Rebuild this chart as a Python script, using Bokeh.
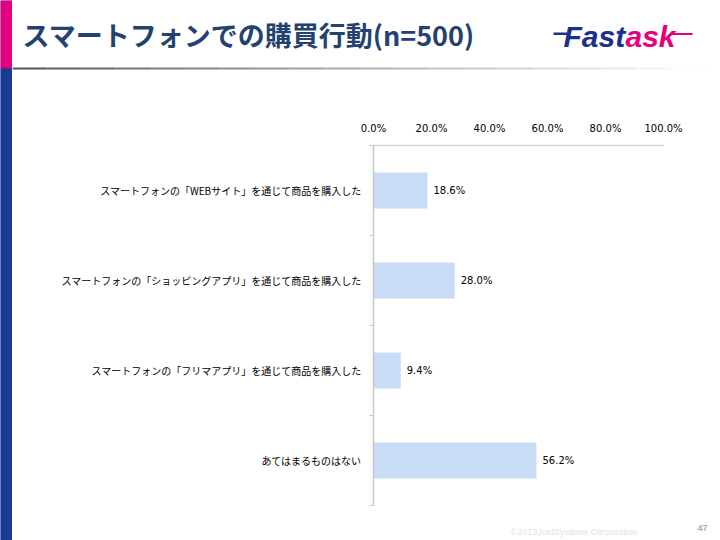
from bokeh.plotting import figure
from bokeh.models import (Range1d, FixedTicker, NumeralTickFormatter,
                          ColumnDataSource)
from bokeh.layouts import column, row
from bokeh.core.properties import value
from bokeh.embed import file_html
from bokeh.resources import INLINE

# ---- data ----
categories = [
    "スマートフォンの「WEBサイト」を通じて商品を購入した",
    "スマートフォンの「ショッピングアプリ」を通じて商品を購入した",
    "スマートフォンの「フリマアプリ」を通じて商品を購入した",
    "あてはまるものはない",
]
values_pct = [18.6, 28.0, 9.4, 56.2]
x_ticks = [0.0, 0.2, 0.4, 0.6, 0.8, 1.0]
title_text = "スマートフォンでの購買行動(n=500)"
footer_text = "©2013JustSystems Corporation"
page_no = "47"

PINK = "#E5007F"
NAVY = "#1A3A94"
W, H = 720, 540
HEAD_H, BODY_H, FOOT_H = 70, 445, 25
STRIP_W = 12


def blank(width, height, x0, x1, y0, y1, bg="white"):
    f = figure(width=width, height=height, output_backend="svg",
               toolbar_location=None, x_range=Range1d(x0, x1),
               y_range=Range1d(y1, y0), x_axis_location=None,
               y_axis_location=None, min_border=0, frame_align=False)
    f.outline_line_color = None
    f.grid.visible = False
    f.background_fill_color = bg
    f.border_fill_color = bg
    return f


# ---- left strip (full height) ----
st = blank(STRIP_W, H, 0, STRIP_W, 0, H, bg=NAVY)
st.quad(left=[0], right=[STRIP_W], top=[0], bottom=[68], fill_color=PINK, line_color=None)
st.quad(left=[0], right=[STRIP_W], top=[68], bottom=[H], fill_color=NAVY, line_color=None)

# ---- header ----
hd = blank(W - STRIP_W, HEAD_H, STRIP_W, W, 0, HEAD_H)
segs = 20
lefts, rights, cols = [], [], []
for i in range(segs):
    lefts.append(STRIP_W + i * (705 - STRIP_W) / segs)
    rights.append(STRIP_W + (i + 1) * (705 - STRIP_W) / segs)
    g = int(85 + (252 - 85) * (i / (segs - 1)) ** 0.9)
    cols.append("#%02x%02x%02x" % (g, g, g))
hd.quad(left=lefts, right=rights, top=[67] * segs, bottom=[69] * segs,
        fill_color=cols, line_color=None)
hd.text(x=[22], y=[34], text=[title_text], text_baseline="middle",
        text_font=value("Noto Sans CJK JP"), text_font_style="bold",
        text_font_size="27px", text_color="#24426F")
# logo
hd.quad(left=[553], right=[567], top=[32], bottom=[34.5], fill_color="#1A2F8E", line_color=None)
hd.quad(left=[670], right=[692], top=[32.5], bottom=[34.5], fill_color=PINK, line_color=None)
hd.text(x=[563], y=[36], text=["Fast"], text_baseline="middle",
        text_font=value("Liberation Sans"), text_font_style="bold italic",
        text_font_size="30px", text_color="#1A2F8E")
hd.text(x=[625], y=[36], text=["ask"], text_baseline="middle",
        text_font=value("Liberation Sans"), text_font_style="bold italic",
        text_font_size="30px", text_color=PINK)

# ---- chart ----
n = len(categories)
ys = [i + 0.5 for i in range(n)]
vals = [v / 100.0 for v in values_pct]
val_labels = [f"{v:.1f}%" for v in values_pct]

p = figure(width=W - STRIP_W, height=BODY_H, output_backend="svg",
           toolbar_location=None, frame_align=False,
           x_range=Range1d(0, 1), y_range=Range1d(n, 0),
           x_axis_location="above", y_axis_location="left",
           min_border_left=361, min_border_top=75,
           min_border_right=57, min_border_bottom=10)
p.outline_line_color = None
p.background_fill_color = "white"
p.border_fill_color = "white"
p.grid.visible = False

xa = p.xaxis[0]
xa.ticker = FixedTicker(ticks=x_ticks)
xa.formatter = NumeralTickFormatter(format="0.0%")
xa.axis_line_color = "#D4D4D4"
xa.axis_line_width = 1.5
xa.major_tick_line_color = None
xa.minor_tick_line_color = None
xa.major_label_text_font = "DejaVu Sans"
xa.major_label_text_font_size = "10px"
xa.major_label_text_color = "#000000"
xa.major_label_standoff = 6

ya = p.yaxis[0]
ya.ticker = FixedTicker(ticks=ys, minor_ticks=list(range(n + 1)))
ya.major_label_overrides = {y: c for y, c in zip(ys, categories)}
ya.axis_line_color = "#C8C8C8"
ya.axis_line_width = 1.5
ya.major_tick_line_color = None
ya.major_tick_out = 0
ya.major_tick_in = 0
ya.minor_tick_line_color = "#C8C8C8"
ya.minor_tick_out = 4
ya.minor_tick_in = 0
ya.major_label_text_font = "Noto Sans CJK JP"
ya.major_label_text_font_size = "10px"
ya.major_label_text_color = "#000000"
ya.major_label_standoff = 8

src = ColumnDataSource(dict(y=ys, v=vals, lab=val_labels))
p.hbar(y="y", left=0, right="v", height=0.4, source=src,
       fill_color="#C9DCF6", line_color=None)
p.text(x="v", y="y", text="lab", source=src, x_offset=6,
       text_baseline="middle", text_align="left",
       text_font=value("DejaVu Sans"), text_font_size="10px",
       text_color="#000000")

# ---- footer ----
ft = blank(W - STRIP_W, FOOT_H, STRIP_W, W, 0, FOOT_H)
ft.text(x=[510], y=[16], text=[footer_text], text_baseline="middle",
        text_font=value("Liberation Sans"), text_font_size="9px",
        text_color="#E2E2DA")
ft.text(x=[697], y=[12], text=[page_no], text_baseline="middle",
        text_font=value("Liberation Sans"), text_font_style="bold",
        text_font_size="9px", text_color="#A8A8A8")

layout = row(st, column(hd, p, ft))
open("out.html", "w").write(file_html(layout, INLINE))
